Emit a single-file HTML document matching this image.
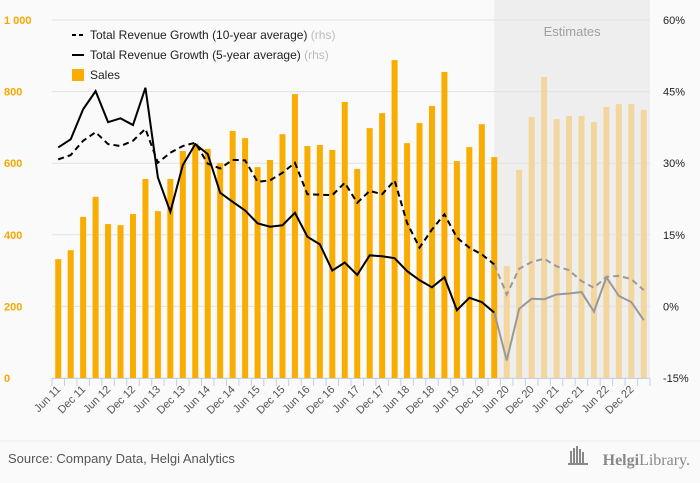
<!DOCTYPE html>
<html><head><meta charset="utf-8">
<style>
body{margin:0;background:#fafafa;font-family:"Liberation Sans",sans-serif;}
#wrap{position:relative;width:700px;height:483px;background:#fafafa;overflow:hidden;}
</style></head>
<body>
<div id="wrap">
<svg id="chart" width="700" height="483"></svg>
</div>
<script>
const categories=["Jun 11","Sep 11","Dec 11","Mar 12","Jun 12","Sep 12","Dec 12","Mar 13","Jun 13","Sep 13","Dec 13","Mar 14","Jun 14","Sep 14","Dec 14","Mar 15","Jun 15","Sep 15","Dec 15","Mar 16","Jun 16","Sep 16","Dec 16","Mar 17","Jun 17","Sep 17","Dec 17","Mar 18","Jun 18","Sep 18","Dec 18","Mar 19","Jun 19","Sep 19","Dec 19","Mar 20","Jun 20","Sep 20","Dec 20","Mar 21","Jun 21","Sep 21","Dec 21","Mar 22","Jun 22","Sep 22","Dec 22","Mar 23"];
const sales=[332,357,450,506,430,427,458,556,466,556,634,655,640,600,690,670,589,609,681,793,648,651,637,771,584,698,740,888,656,712,760,855,606,645,709,617,313,581,729,841,723,732,732,715,757,765,765,749];
const growth10=[30.8,31.7,34.7,36.5,34,33.6,34.7,37.2,30.1,32.2,33.6,34.3,29.9,28.9,30.7,30.6,26.1,26.4,28,30.1,23.5,23.4,23.3,25.9,21.7,24.2,23.5,26.4,17.5,12.3,16.1,19.3,14.4,12.3,10.9,8.8,2.5,7.9,9.3,10,8.4,7.6,5.3,3.9,6.2,6.4,5.7,3.4];
const growth5=[33.3,35,41.3,45.1,38.6,39.4,38,45.8,27,19.8,29.6,34,31.9,23.8,21.9,20.1,17.4,16.7,17,19.6,14.6,13,7.5,9.2,6.6,10.7,10.5,10.1,7.4,5.5,4.0,6.1,-0.8,1.8,0.9,-1.3,-11.3,-0.5,1.6,1.5,2.5,2.7,3.0,-1.1,6.1,2.2,0.9,-2.9];
const leftTicks=[0,200,400,600,800,1000];
const leftTickLabels=["0","200","400","600","800","1 000"];
const rightTicks=[-15,0,15,30,45,60];
const rightTickLabels=["-15%","0%","15%","30%","45%","60%"];
const estStart=35;

const NS="http://www.w3.org/2000/svg";
const svg=document.getElementById('chart');
const X0=52,X1=650,Y0=378,Y1=20;
const bw=(X1-X0)/categories.length;
const xC=i=>X0+bw*(i+0.5);
const yL=v=>Y0-(v/1000)*(Y0-Y1);
const yR=v=>Y0-((v+15)/75)*(Y0-Y1);
function el(tag,attrs,parent){const e=document.createElementNS(NS,tag);for(const k in attrs)e.setAttribute(k,attrs[k]);(parent||svg).appendChild(e);return e;}

// estimates band
const band=el('rect',{x:xC(estStart),y:0,width:X1-xC(estStart),height:Y0,fill:'#eeeeee'});


const et=el('text',{x:(xC(estStart)+X1)/2,y:36,'text-anchor':'middle','font-size':13,fill:'#a0a0a0'});
et.textContent='Estimates';



// gridlines and axes labels
leftTicks.forEach((v,i)=>{
  const g=el('line',{x1:X0,x2:X1,y1:yL(v),y2:yL(v),stroke:'#e2e2e2','stroke-width':1});
  
  
  const t=el('text',{x:4,y:yL(v)+4,'font-size':11,fill:'#f5a800','font-weight':'bold'});
  t.textContent=leftTickLabels[i];
  
  
});
rightTicks.forEach((v,i)=>{
  const t=el('text',{x:663,y:yR(v)+4,'font-size':11,fill:'#222'});
  t.textContent=rightTickLabels[i];
  
  
});

// bars
sales.forEach((v,i)=>{
  const r=el('rect',{x:xC(i)-3,y:yL(v),width:6,height:Y0-yL(v),fill:i>estStart?'#f2d69e':'#f9ad00'});
  
  
});

// x axis
const ax=el('line',{x1:X0,x2:X1,y1:Y0+0.5,y2:Y0+0.5,stroke:'#c5d0e6','stroke-width':1});


for(let i=0;i<=categories.length;i++){
  const tk=el('line',{x1:X0+bw*i,x2:X0+bw*i,y1:Y0,y2:Y0+8,stroke:'#c5d0e6'});
  
  
}
categories.forEach((c,i)=>{
  if(i%2)return;
  const x=xC(i)+3,y=Y0+12;
  const t=el('text',{x:x,y:y,'font-size':11,fill:'#555','text-anchor':'end',transform:`rotate(-45 ${x} ${y})`});
  t.textContent=c;
  
  
});

// lines
function drawLine(data,dash,name){
  const p1=data.slice(0,estStart+1).map((v,i)=>`${xC(i)},${yR(v)}`).join(' ');
  const p2=data.slice(estStart).map((v,i)=>`${xC(i+estStart)},${yR(v)}`).join(' ');
  const a=el('polyline',{points:p1,fill:'none',stroke:'#000','stroke-width':2,'stroke-dasharray':dash});
  
  
  const b=el('polyline',{points:p2,fill:'none',stroke:'#999','stroke-width':2,'stroke-dasharray':dash});
  
  
}
drawLine(growth10,'6,4','growth-10yr-line');
drawLine(growth5,'none','growth-5yr-line');

// legend
const lg=[['6,4','Total Revenue Growth (10-year average)',35],['none','Total Revenue Growth (5-year average)',55]];
lg.forEach(([d,txt,y])=>{
  const l=el('line',{x1:72,x2:84,y1:y,y2:y,stroke:'#000','stroke-width':2,'stroke-dasharray':d==='none'?'none':'4,3'});
  
  
  const t=el('text',{x:90,y:y+4,'font-size':12,fill:'#222'});
  t.innerHTML=txt+' <tspan fill="#bbb">(rhs)</tspan>';
  
  
});
const ls=el('rect',{x:72,y:69,width:12,height:12,fill:'#f9ad00'});


const lt=el('text',{x:90,y:79,'font-size':12,fill:'#222'});
lt.textContent='Sales';



// footer
const fl=el('line',{x1:0,x2:700,y1:441,y2:441,stroke:'#eaeaea'});


const src=el('text',{x:8,y:463,'font-size':13,fill:'#555'});
src.textContent='Source: Company Data, Helgi Analytics';


const logo=el('text',{x:690,y:465,'font-size':16,fill:'#888','text-anchor':'end','font-family':'Liberation Serif, serif'});
logo.innerHTML='<tspan font-weight="bold">Helgi</tspan>Library.';


const ic=el('g',{fill:'#888'});


[0,3,6,9,12].forEach((dx,k)=>el('rect',{x:570+dx,y:455-[4,7,9,6,3][k],width:2,height:[4,7,9,6,3][k]+8},ic));
el('rect',{x:568,y:463,width:20,height:2},ic);
</script>
</body></html>
